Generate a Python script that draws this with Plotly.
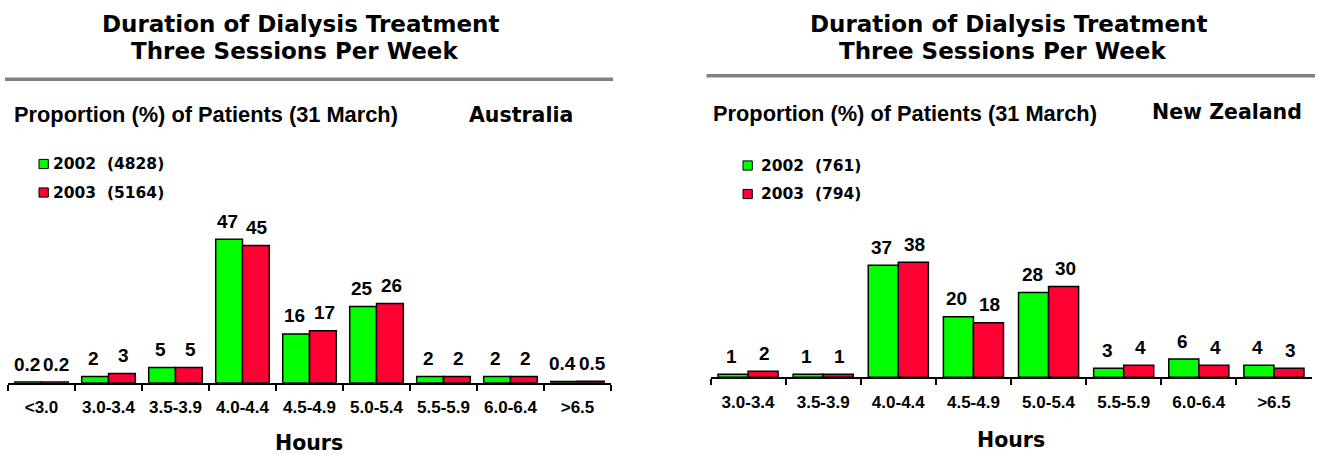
import plotly.graph_objects as go

# ---- data ----
hours_au = ["<3.0", "3.0-3.4", "3.5-3.9", "4.0-4.4", "4.5-4.9", "5.0-5.4", "5.5-5.9", "6.0-6.4", ">6.5"]
au_2002 = [0.2, 2, 5, 47, 16, 25, 2, 2, 0.4]
au_2003 = [0.2, 3, 5, 45, 17, 26, 2, 2, 0.5]
au_patients = [4828, 5164]

hours_nz = ["3.0-3.4", "3.5-3.9", "4.0-4.4", "4.5-4.9", "5.0-5.4", "5.5-5.9", "6.0-6.4", ">6.5"]
nz_2002 = [1, 1, 37, 20, 28, 3, 6, 4]
nz_2003 = [2, 1, 38, 18, 30, 4, 4, 3]
nz_patients = [761, 794]

years = ["2002", "2003"]
colors = ["#00ff00", "#ff0033"]

# ---- page geometry (pixels) ----
W, H = 1318, 454
BARGAP = 0.2
Y_MAX = 60


def px(x):
    return x / W


def py(y):
    return 1 - y / H


HEAVY = "DejaVu Sans"
ARIAL = "Liberation Sans"

panels = [
    dict(cats=hours_au, series=[au_2002, au_2003], counts=au_patients, country="Australia",
         x0=8, x1=611, base=382.7, scale=3.05,
         t1=(300, 23.5), t2=(294, 50.5), rule=(5, 613, 79.3),
         sub=(11.7, 114.5), ctry=(520.8, 114.5),
         sw_x=39, txt_x=51, rows=(164, 192.5), hours=(309, 443)),
    dict(cats=hours_nz, series=[nz_2002, nz_2003], counts=nz_patients, country="New Zealand",
         x0=710.5, x1=1311.5, base=377.3, scale=3.03,
         t1=(1008, 23.5), t2=(1002, 50.5), rule=(706.5, 1315, 75.7),
         sub=(710.8, 113.8), ctry=(1226.7, 112),
         sw_x=743, txt_x=759.4, rows=(165.5, 194), hours=(1011, 440)),
]

fig = go.Figure()
annotations = []
shapes = []

for i, p in enumerate(panels):
    ax = "" if i == 0 else str(i + 1)
    xref, yref = "x" + ax, "y" + ax
    n = len(p["cats"])
    cat_px = (p["x1"] - p["x0"]) / n
    # label offset from the category centre: bar centre plus a little spread
    half = (1 - BARGAP) / 4 * cat_px + 1.5

    for k, (vals, col) in enumerate(zip(p["series"], colors)):
        fig.add_trace(go.Bar(
            x=p["cats"], y=vals, name=years[k],
            marker=dict(color=col, line=dict(color="black", width=1.5)),
            xaxis=xref, yaxis=yref, showlegend=False, cliponaxis=False,
        ))
        # value labels above each bar
        for c, v in zip(p["cats"], vals):
            annotations.append(dict(
                x=c, y=v, xref=xref, yref=yref, text=f"{v:g}", showarrow=False,
                xshift=(-half if k == 0 else half), yshift=18, yanchor="middle",
                font=dict(family=ARIAL, size=19, color="black", weight="bold"),
            ))

    bottom = py(p["base"])
    top = py(p["base"] - Y_MAX * p["scale"])
    fig.update_layout({
        "xaxis" + ax: dict(
            domain=[px(p["x0"]), px(p["x1"])], anchor=yref, type="category",
            range=[-0.5, n - 0.5], showline=True, linecolor="black", linewidth=2,
            ticks="outside", tickson="boundaries", ticklen=6, tickwidth=1.5, tickcolor="black",
            ticklabelstandoff=8,
            showgrid=False, zeroline=False, fixedrange=True,
            tickfont=dict(family=ARIAL, size=17, color="black", weight="bold"),
        ),
        "yaxis" + ax: dict(
            domain=[bottom, top], anchor=xref, range=[0, Y_MAX], visible=False,
            showgrid=False, zeroline=False, fixedrange=True,
        ),
    })

    # headings
    for key, txt in (("t1", "Duration of Dialysis Treatment"), ("t2", "Three Sessions Per Week")):
        annotations.append(dict(
            x=px(p[key][0]), y=py(p[key][1]), xref="paper", yref="paper", text=txt,
            showarrow=False, xanchor="center", yanchor="middle",
            font=dict(family=HEAVY, size=23, color="black", weight="bold"),
        ))
    rx0, rx1, ry = p["rule"]
    shapes.append(dict(type="line", xref="paper", yref="paper",
                       x0=px(rx0), x1=px(rx1), y0=py(ry), y1=py(ry),
                       line=dict(color="#808080", width=3.5)))
    annotations.append(dict(
        x=px(p["sub"][0]), y=py(p["sub"][1]), xref="paper", yref="paper",
        text="Proportion (%) of Patients (31 March)", showarrow=False,
        xanchor="left", yanchor="middle",
        font=dict(family=ARIAL, size=21.8, color="black", weight="bold"),
    ))
    annotations.append(dict(
        x=px(p["ctry"][0]), y=py(p["ctry"][1]), xref="paper", yref="paper",
        text=p["country"], showarrow=False, xanchor="center", yanchor="middle",
        font=dict(family=HEAVY, size=20.5, color="black", weight="bold"),
    ))

    # legend: swatch + label per year
    for k, (yr, cnt, col) in enumerate(zip(years, p["counts"], colors)):
        cy = p["rows"][k]
        shapes.append(dict(type="rect", xref="paper", yref="paper",
                           x0=px(p["sw_x"]), x1=px(p["sw_x"] + 9.3),
                           y0=py(cy + 4.6), y1=py(cy - 4.6),
                           fillcolor=col, line=dict(color="black", width=1)))
        annotations.append(dict(
            x=px(p["txt_x"]), y=py(cy), xref="paper", yref="paper",
            text=f"{yr}&nbsp;&nbsp;({cnt})", showarrow=False,
            xanchor="left", yanchor="middle",
            font=dict(family=HEAVY, size=15.5, color="black", weight="bold"),
        ))

    annotations.append(dict(
        x=px(p["hours"][0]), y=py(p["hours"][1]), xref="paper", yref="paper",
        text="Hours", showarrow=False, xanchor="center", yanchor="middle",
        font=dict(family=HEAVY, size=20.5, color="black", weight="bold"),
    ))

fig.update_layout(
    width=W, height=H, margin=dict(l=0, r=0, t=0, b=0),
    paper_bgcolor="white", plot_bgcolor="white",
    barmode="group", bargap=BARGAP, bargroupgap=0,
    annotations=annotations, shapes=shapes, showlegend=False,
)

fig.write_html("out.html", config={"displayModeBar": False})
